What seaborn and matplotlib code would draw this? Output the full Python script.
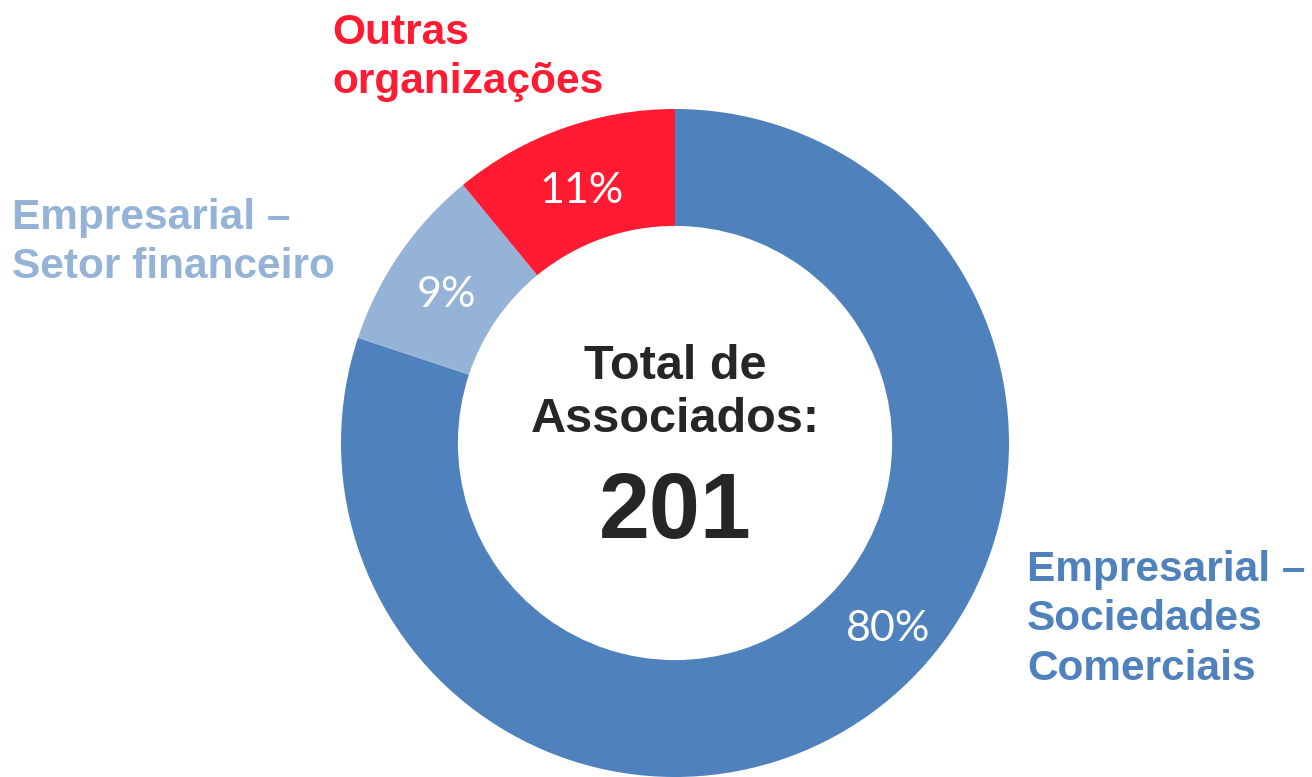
import matplotlib
matplotlib.use("Agg")
import matplotlib.pyplot as plt
import numpy as np
import seaborn as sns

# associados por categoria (total 201)
categorias = ["Empresarial –\nSociedades\nComerciais", "Empresarial –\nSetor financeiro", "Outras\norganizações"]
associados = [161, 18, 22]
rotulos = ["80%", "9%", "11%"]
cores = ["#4F81BD", "#95B3D7", "#FF1C33"]
total = sum(associados)

sns.set_theme(style="white")
plt.rcParams["font.family"] = ["Liberation Sans", "DejaVu Sans"]

W, H = 1312, 777
fig = plt.figure(figsize=(W / 100, H / 100), dpi=100)
ax = fig.add_axes([0, 0, 1, 1])

cx, cy, R = 675, H - 443, 334
wedges, _ = ax.pie(associados, colors=cores, startangle=90, counterclock=False,
                   radius=R, center=(cx, cy), wedgeprops=dict(width=R * 0.35, linewidth=0))

# percentages on the ring (big slice label nudged toward lower right)
shift = [14.5, 0, 0]
ang = 90.0
for v, lab, s in zip(associados, rotulos, shift):
    span = v / total * 360
    mid = np.deg2rad(ang - span / 2 + s)
    ang -= span
    r = R * 0.83
    ax.text(cx + r * np.cos(mid), cy + r * np.sin(mid) - 9, lab, ha="center", va="center",
            color="white", fontsize=31, family=["Lato", "DejaVu Sans"])

# center text
ax.text(cx, H - 393, "Total de\nAssociados:", ha="center", va="center", fontsize=35,
        fontweight="bold", color="#262626", linespacing=1.23)
ax.text(cx, H - 514, str(total), ha="center", va="center", fontsize=66,
        fontweight="bold", color="#262626")

# category labels
pos = [(1027, 550), (12, 198), (332, 13)]
for (x, y), txt, c in zip(pos, categorias, cores):
    ax.text(x, H - y, txt, ha="left", va="top", fontsize=30.5, fontweight="bold",
            color=c, linespacing=1.3)

ax.set_xlim(0, W)
ax.set_ylim(0, H)
ax.set_aspect("equal")
ax.axis("off")
fig.savefig("out.png", dpi=100)
